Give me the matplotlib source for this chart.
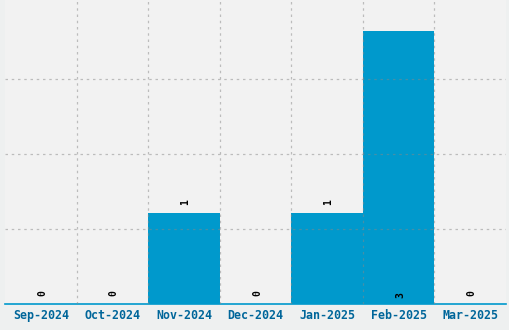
import matplotlib
matplotlib.use("Agg")
import matplotlib.pyplot as plt
import numpy as np

months = ["Sep-2024", "Oct-2024", "Nov-2024", "Dec-2024", "Jan-2025", "Feb-2025", "Mar-2025"]
counts = [0, 0, 1, 0, 1, 3, 0]

fig = plt.figure(figsize=(5.1, 3.3), dpi=100)
fig.patch.set_facecolor("#eef0f0")
ax = fig.add_axes([5/510, 26/330, 501/510, 304/330])
ax.set_facecolor("#f2f2f2")

x = np.arange(len(months))
ax.bar(x, counts, width=1.0, color="#0099cc", zorder=2)
ax.set_xlim(-0.5, len(months) - 0.5)
ymax = 3.34
ax.set_ylim(0, ymax)

step = 0.824
ax.set_yticks([step, 2 * step, 3 * step])
ax.set_yticklabels([])
ax.tick_params(axis="y", length=0)
ax.set_xticks(x)
ax.set_xticklabels(months, fontfamily="DejaVu Sans Mono", fontweight="bold",
                   fontsize=8.4, color="#00669a")
ax.tick_params(axis="x", length=0, pad=3.5)
ax.set_xticks(np.arange(0.5, len(months) - 1, 1.0), minor=True)
ax.tick_params(axis="x", which="minor", length=0)

ax.grid(True, which="minor", axis="x", color="#888888", alpha=0.5,
        linestyle=(0, (2, 3)), linewidth=0.9, zorder=3)
ax.grid(True, which="major", axis="y", color="#888888", alpha=0.5,
        linestyle=(0, (2, 3)), linewidth=0.9, zorder=3)
ax.grid(False, which="major", axis="x")
ax.set_axisbelow(False)

for s in ["top", "left", "right"]:
    ax.spines[s].set_visible(False)
ax.spines["bottom"].set_color("#0099cc")
ax.spines["bottom"].set_linewidth(1.2)

mx = max(counts)
for xi, v in zip(x, counts):
    if v == mx:
        y, off = 0, 4
    else:
        y, off = v, 6
    ax.annotate(str(v), (xi, y), xytext=(1, off), textcoords="offset points",
                rotation=90, ha="center", va="bottom",
                fontfamily="DejaVu Sans Mono", fontweight="bold",
                fontsize=7, color="black", zorder=4)

fig.savefig("out.png", dpi=100, facecolor=fig.get_facecolor())
